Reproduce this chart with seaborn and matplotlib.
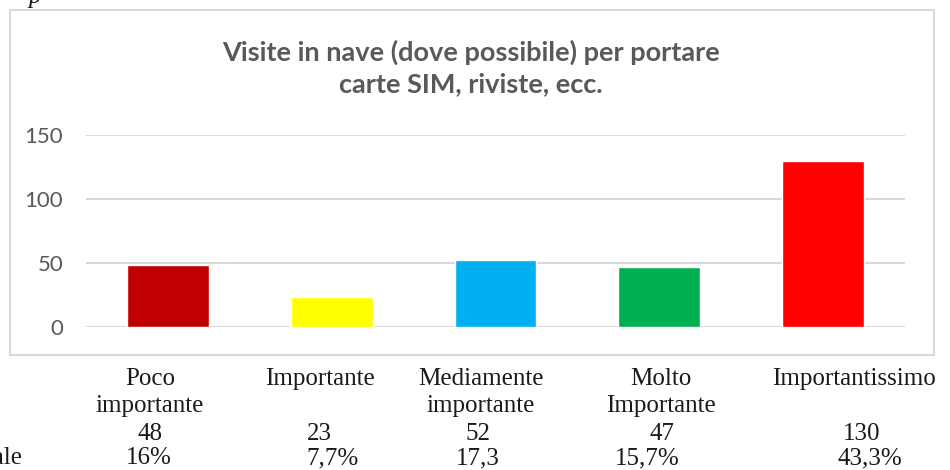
import matplotlib
matplotlib.use("Agg")
import matplotlib.pyplot as plt
import seaborn as sns
import pandas as pd
from matplotlib.patches import Rectangle

# ---- data ----
categories = ["Poco\nimportante", "Importante", "Mediamente\nimportante",
              "Molto\nImportante", "Importantissimo"]
values = [48, 23, 52, 47, 130]
value_labels = ["48", "23", "52", "47", "130"]
pct_labels = ["16%", "7,7%", "17,3", "15,7%", "43,3%"]
row_label = "Percentuale"
title = "Visite in nave (dove possibile) per portare\ncarte SIM, riviste, ecc."
yticks = [0, 50, 100, 150]
colors = ["#C00000", "#FFFF00", "#00B0F0", "#00B050", "#FF0000"]

# ---- layout (pixels) ----
W, H = 950, 470
label_x = [150, 320, 481, 661, 854]
value_x = [150, 319, 478, 662, 862]
pct_x = [149, 333, 478, 647, 870]

sns.set_theme(style="white")
plt.rcParams["font.family"] = ["Lato", "DejaVu Sans"]

fig = plt.figure(figsize=(W / 100, H / 100), dpi=100)

def fx(px):
    return px / W

def fy(py):
    return 1 - py / H

# chart border
fig.patches.append(Rectangle((fx(10), fy(355)), fx(934) - fx(10), fy(10) - fy(355),
                             transform=fig.transFigure, fill=False,
                             edgecolor="#D9D9D9", linewidth=1.5))

ax = fig.add_axes([fx(86), fy(326.7), fx(905) - fx(86), fy(135) - fy(326.7)])
df = pd.DataFrame({"cat": categories, "val": values})
sns.barplot(data=df, x="cat", y="val", hue="cat", palette=colors, legend=False,
            width=0.5, saturation=1, ax=ax, zorder=3)
ax.set_ylim(0, 150)
ax.set_xlim(-0.5, len(categories) - 0.5)
ax.set_yticks(yticks)
ax.set_yticklabels([str(t) for t in yticks], color="#595959", fontsize=16)
ax.tick_params(axis="y", length=0, pad=16.5)
ax.set_xticks([])
ax.set_xlabel("")
ax.set_ylabel("")
for s in ax.spines.values():
    s.set_visible(False)
ax.yaxis.grid(True, color="#D9D9D9", linewidth=1.5, zorder=0)
ax.set_axisbelow(True)
ax.patch.set_alpha(0)

# title
fig.text(fx(471), fy(67.5), title, ha="center", va="center", fontsize=19.5,
         fontweight="bold", color="#595959", linespacing=1.35)

# table text below chart
serif = ["Liberation Serif", "DejaVu Serif"]
tcol = "#1a1a1a"
fs = 18
for i, lab in enumerate(categories):
    for j, line in enumerate(lab.split("\n")):
        fig.text(fx(label_x[i]), fy(385 + 27 * j), line, ha="center", va="baseline",
                 fontsize=fs, family=serif, color=tcol)
    fig.text(fx(value_x[i]), fy(440), value_labels[i], ha="center", va="baseline",
             fontsize=fs, family=serif, color=tcol)
    fig.text(fx(pct_x[i]), fy(469.5), pct_labels[i], ha="center", va="bottom",
             fontsize=fs, family=serif, color=tcol)
fig.text(fx(22), fy(469.5), row_label, ha="right", va="bottom",
         fontsize=fs, family=serif, color=tcol)
fig.text(fx(28), fy(3), "p", ha="left", va="baseline", fontsize=fs,
         family=serif, style="italic", color=tcol)

fig.savefig("out.png", dpi=100)
